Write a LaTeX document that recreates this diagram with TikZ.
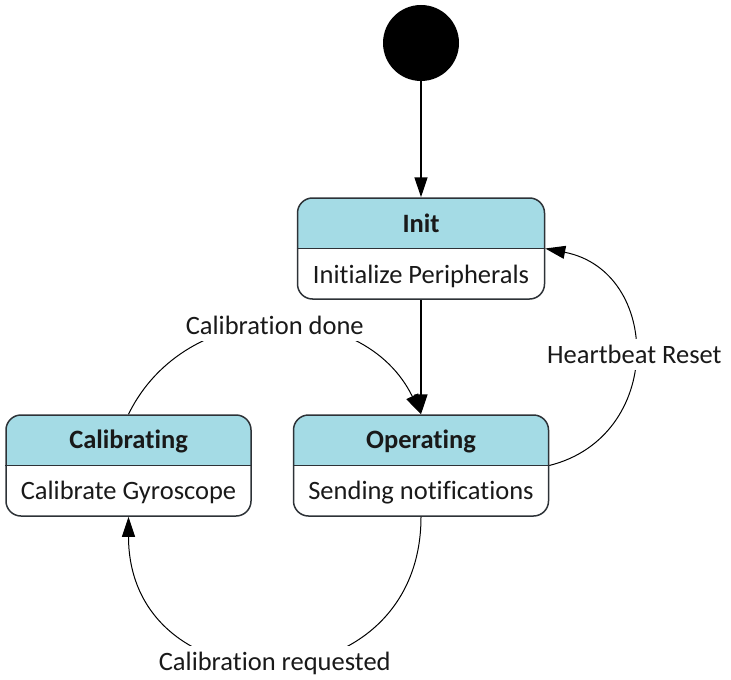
\documentclass[tikz,border=0pt]{standalone}
\usepackage{fontspec}
\setmainfont{Carlito}[Ligatures=NoCommon]
\usetikzlibrary{arrows.meta}
\definecolor{headblue}{RGB}{164,219,229}
\definecolor{edgegray}{RGB}{45,50,55}
\begin{document}
\begin{tikzpicture}[x=0.5pt, y=-0.5pt, every node/.style={font=\fontsize{13.25}{16}\selectfont, text=black!90}]
    \tikzstyle{state} = [rectangle, draw=edgegray, line width=0.75pt, rounded corners=7.5pt, minimum height=50.5pt, inner sep=0pt,
        path picture={\fill[headblue, sharp corners] (path picture bounding box.north west) rectangle (path picture bounding box.east);}]
    \tikzstyle{statename} = [anchor=base, inner sep=0pt, font=\fontsize{13.25}{16}\selectfont\bfseries]
    \tikzstyle{statebody} = [anchor=base, inner sep=0pt]
    \tikzstyle{divider} = [draw=edgegray, line width=0.75pt]
    \tikzstyle{trans} = [-{Triangle[length=10pt, width=6.5pt]}, line width=0.75pt]
    \tikzstyle{curved} = [trans, line width=0.5pt]
    \tikzstyle{edgelabel} = [fill=white, inner sep=3pt]

    \useasboundingbox (0,0) rectangle (731,679);

    \node [circle, fill=black, minimum size=38pt, inner sep=0pt] (start) at (421,43) {};

    \node [state, minimum width=123.5pt] (init) at (421,248.5) {};
    \draw [divider] (init.west) -- (init.east);
    \node [statename] (initname) at ([yshift=8.25pt]init.center) {Init};
    \node [statebody] (initbody) at ([yshift=-17.25pt]init.center) {Initialize Peripherals};

    \node [state, minimum width=127.5pt] (oper) at (421,465.5) {};
    \draw [divider] (oper.west) -- (oper.east);
    \node [statename] (opername) at ([yshift=8.5pt]oper.center) {Operating};
    \node [statebody] (operbody) at ([yshift=-17pt]oper.center) {Sending notifications};

    \node [state, minimum width=122.5pt] (calib) at (128.5,465.5) {};
    \draw [divider] (calib.west) -- (calib.east);
    \node [statename] (calibname) at ([yshift=8.5pt]calib.center) {Calibrating};
    \node [statebody] (calibbody) at ([yshift=-17pt]calib.center) {Calibrate Gyroscope};

    \draw [trans] (start) -- (init);
    \draw [trans] (init) -- (oper);
    \draw [curved] (calib.north) to [out=64, in=116, looseness=1.15] node [edgelabel] {Calibration done} (oper.north);
    \draw [curved] (oper.east) to [out=14, in=-11, looseness=1.4] node [edgelabel] {Heartbeat Reset} (init.east);
    \draw [curved] (oper.south) to [out=-90, in=-90, looseness=1.71] node [edgelabel] {Calibration requested} (calib.south);
\end{tikzpicture}
\end{document}
